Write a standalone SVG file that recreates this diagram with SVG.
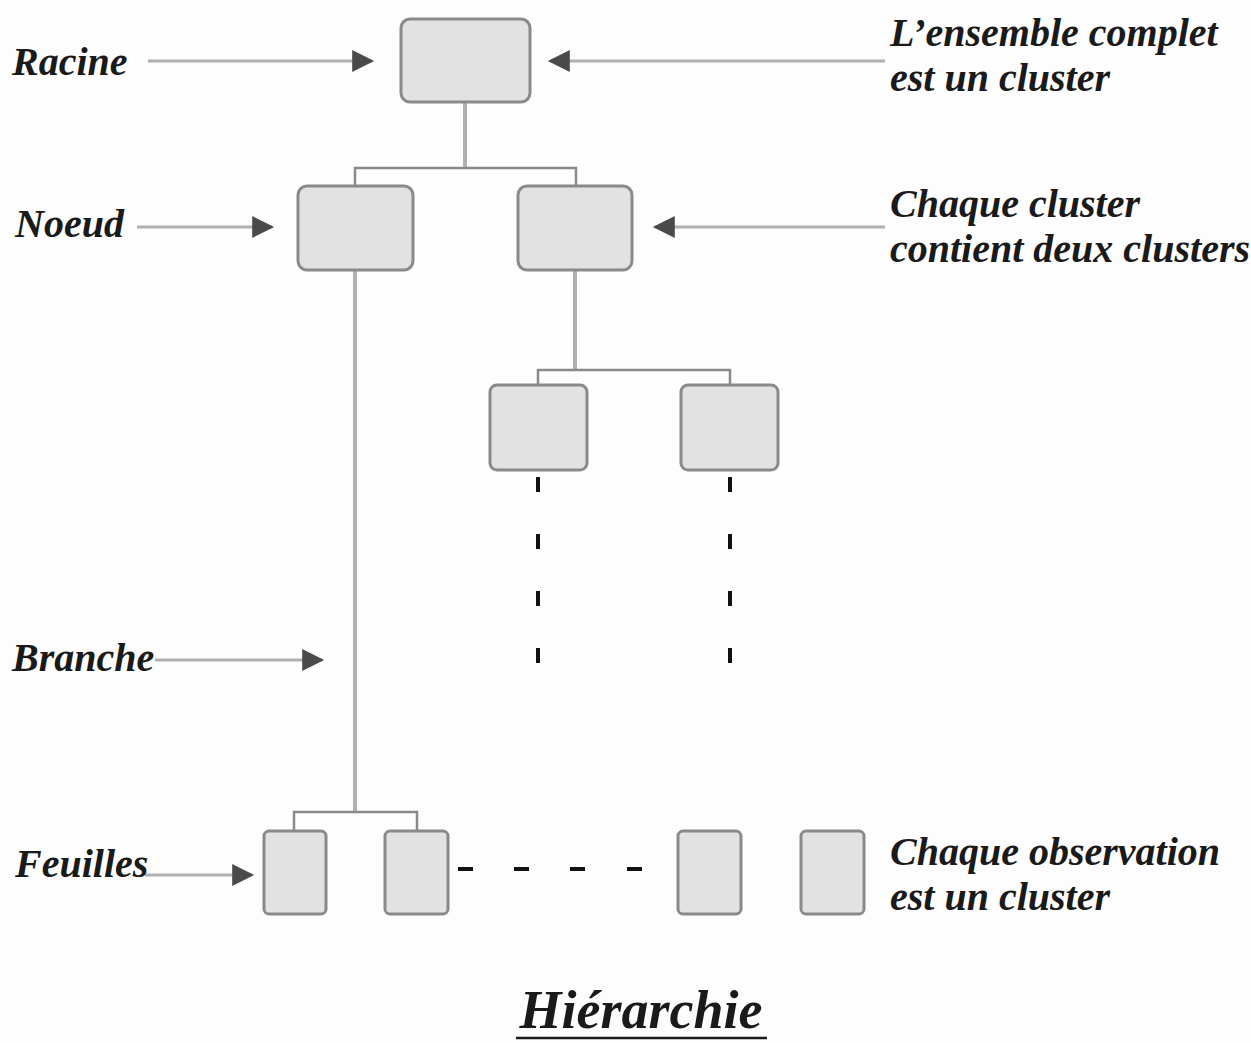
<svg xmlns="http://www.w3.org/2000/svg" width="1251" height="1043" viewBox="0 0 1251 1043">
<style>
.box{fill:#e2e2e2;stroke:#8a8a8a;stroke-width:3}
.lbl{font-family:"Liberation Serif",serif;font-style:italic;font-weight:bold;font-size:40px;fill:#1a1a1a}
.ptr{stroke:#b0b0b0;stroke-width:3;fill:none}
.trunk{stroke:#b0b0b0;stroke-width:4;fill:none}
.brk{stroke:#8a8a8a;stroke-width:2.5;fill:none}
.dash{stroke:#111;stroke-width:4}
</style>
<defs>
<marker id="ahb" viewBox="0 0 10 10" refX="9" refY="5" markerWidth="24" markerHeight="22" markerUnits="userSpaceOnUse" orient="auto">
<path d="M0,0 L10,5 L0,10 z" fill="#4a4a4a"/>
</marker>
</defs>
<rect width="1251" height="1043" fill="#fdfdfd"/>
<g id="connectors">
<path class="trunk" d="M465,102 V168"/>
<path class="brk" d="M355,185 V168 H576 V185"/>
<path class="trunk" d="M355,270 V812"/>
<path class="brk" d="M294,830 V812 H417 V830"/>
<path class="trunk" d="M575,270 V370"/>
<path class="brk" d="M538,385 V370 H730 V385"/>
<path class="dash" d="M538,477 V492 M538,534 V549 M538,591 V606 M538,648 V663"/>
<path class="dash" d="M730,477 V492 M730,534 V549 M730,591 V606 M730,648 V663"/>
<path class="dash" d="M458,869 H473 M514,869 H529 M570,869 H585 M627,869 H642"/>
<path class="ptr" d="M148,61 H372" marker-end="url(#ahb)"/>
<path class="ptr" d="M885,61 H550" marker-end="url(#ahb)"/>
<path class="ptr" d="M137,227 H272" marker-end="url(#ahb)"/>
<path class="ptr" d="M885,227 H655" marker-end="url(#ahb)"/>
<path class="ptr" d="M155,660 H322" marker-end="url(#ahb)"/>
<path class="ptr" d="M145,875 H252" marker-end="url(#ahb)"/>
</g>
<g id="root"><rect class="box" x="401" y="19" width="129" height="83" rx="9"/></g>
<g id="noeud-left"><rect class="box" x="298" y="186" width="115" height="84" rx="9"/></g>
<g id="noeud-right"><rect class="box" x="518" y="186" width="114" height="84" rx="9"/></g>
<g id="n2-left"><rect class="box" x="490" y="385" width="97" height="85" rx="7"/></g>
<g id="n2-right"><rect class="box" x="681" y="385" width="97" height="85" rx="7"/></g>
<g id="leaf1"><rect class="box" x="264" y="831" width="62" height="83" rx="5"/></g>
<g id="leaf2"><rect class="box" x="385" y="831" width="63" height="83" rx="5"/></g>
<g id="leaf3"><rect class="box" x="678" y="831" width="63" height="83" rx="5"/></g>
<g id="leaf4"><rect class="box" x="801" y="831" width="63" height="83" rx="5"/></g>
<g id="labels">
<text class="lbl" x="12" y="75">Racine</text>
<text class="lbl" x="15" y="237">Noeud</text>
<text class="lbl" x="12" y="671">Branche</text>
<text class="lbl" x="15" y="877">Feuilles</text>
<text class="lbl" x="890" y="46">L’ensemble complet</text>
<text class="lbl" x="890" y="91">est un cluster</text>
<text class="lbl" x="890" y="217">Chaque cluster</text>
<text class="lbl" x="890" y="262">contient deux clusters</text>
<text class="lbl" x="890" y="865">Chaque observation</text>
<text class="lbl" x="890" y="910">est un cluster</text>
<text class="lbl" x="641" y="1028" text-anchor="middle" style="font-size:54px">Hiérarchie</text>
<line x1="516" y1="1038" x2="767" y2="1038" stroke="#1a1a1a" stroke-width="2.5"/>
</g>
</svg>
